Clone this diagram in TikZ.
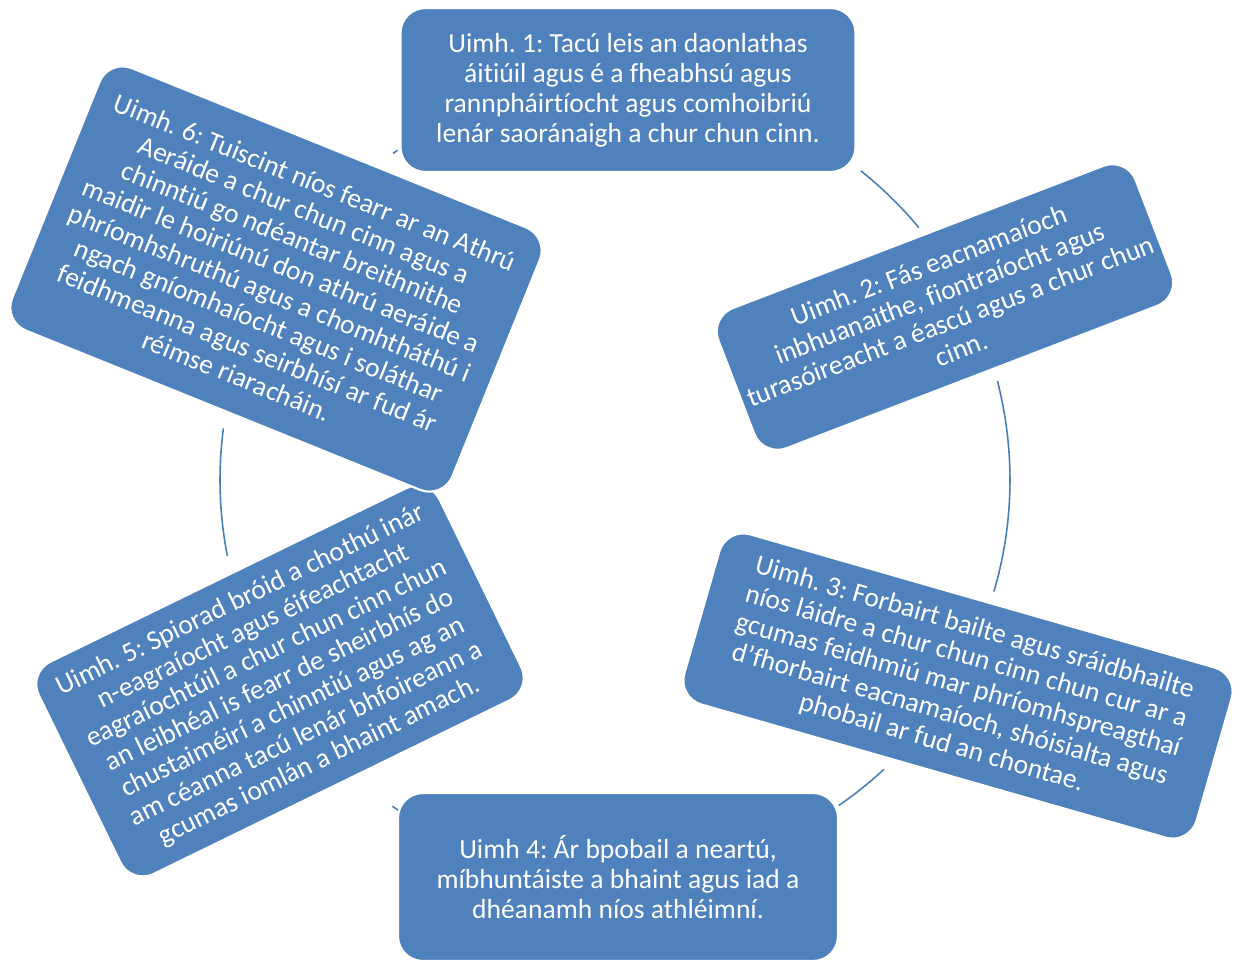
\documentclass[tikz,border=0pt]{standalone}
\usepackage{fontspec}
\setmainfont{Carlito}[Ligatures={NoCommon}]
\usepackage{xcolor}
\usepackage{tikz}

\definecolor{boxblue}{HTML}{4F81BD}
\definecolor{linkblue}{HTML}{4A7EBB}

\begin{document}
\frenchspacing
\begin{tikzpicture}[
    goal/.style={draw=white, line width=1.2pt, rectangle, rounded corners=0.5cm, fill=boxblue,
        text=white, align=center, inner sep=2pt, font=\fontsize{15.7}{17}\selectfont},
    link/.style={draw=linkblue, line width=0.9pt}]
    \useasboundingbox (0,0) rectangle (24.68,19.24);
    \coordinate (hub) at (12.30,9.64);

    % connectors round the cycle
    \draw[link] (hub) ++(51.5:7.9) arc[start angle=51.5, end angle=39.7, radius=7.9];
    \draw[link] (hub) ++(14.5:7.9) arc[start angle=14.5, end angle=-16.4, radius=7.9];
    \draw[link] (hub) ++(-47.1:7.9) arc[start angle=-47.1, end angle=-55.5, radius=7.9];
    \draw[link] (hub) ++(-123.3:7.9) arc[start angle=-123.3, end angle=-124.3, radius=7.9];
    \draw[link] (hub) ++(-168.9:7.9) arc[start angle=-168.9, end angle=-187.5, radius=7.9];
    \draw[link] (hub) ++(124.2:7.9) arc[start angle=124.2, end angle=123.4, radius=7.9];

    \node (goal1) [goal, minimum width=9.1cm, minimum height=3.28cm] at (12.56,17.44)
        {Uimh. 1: Tacú leis an daonlathas\\ áitiúil agus é a fheabhsú agus\\ rannpháirtíocht agus comhoibriú\\ lenár saoránaigh a chur chun cinn.};
    \node (goal2) [goal, rotate=21, minimum width=8.94cm, minimum height=3.0cm] at (18.90,13.10)
        {Uimh. 2: Fás eacnamaíoch\\ inbhuanaithe, fiontraíocht agus\\ turasóireacht a éascú agus a chur chun\\ cinn.};
    \node (goal3) [goal, rotate=-16, minimum width=10.66cm, minimum height=3.54cm] at (19.16,5.52)
        {Uimh. 3: Forbairt bailte agus sráidbhailte\\ níos láidre a chur chun cinn chun cur ar a\\ gcumas feidhmiú mar phríomhspreagthaí\\ d’fhorbairt eacnamaíoch, shóisialta agus\\ phobail ar fud an chontae.};
    \node (goal4) [goal, minimum width=8.8cm, minimum height=3.36cm] at (12.36,1.70)
        {Uimh 4: Ár bpobail a neartú,\\ míbhuntáiste a bhaint agus iad a\\ dhéanamh níos athléimní.};
    \node (goal5) [goal, rotate=26, minimum width=8.92cm, minimum height=4.72cm] at (5.60,5.62)
        {Uimh. 5: Spiorad bróid a chothú inár\\ n-eagraíocht agus éifeachtacht\\ eagraíochtúil a chur chun cinn chun\\ an leibhéal is fearr de sheirbhís do\\ chustaiméirí a chinntiú agus ag an\\ am céanna tacú lenár bhfoireann a\\ gcumas iomlán a bhaint amach.};
    \node (goal6) [goal, rotate=-22, minimum width=9.5cm, minimum height=5.66cm] at (5.52,13.66)
        {Uimh. 6: Tuiscint níos fearr ar an Athrú\\ Aeráide a chur chun cinn agus a\\ chinntiú go ndéantar breithnithe\\ maidir le hoiriúnú don athrú aeráide a\\ phríomhshruthú agus a chomhtháthú i\\ ngach gníomhaíocht agus i soláthar\\ feidhmeanna agus seirbhísí ar fud ár\\ réimse riaracháin.};
\end{tikzpicture}
\end{document}
